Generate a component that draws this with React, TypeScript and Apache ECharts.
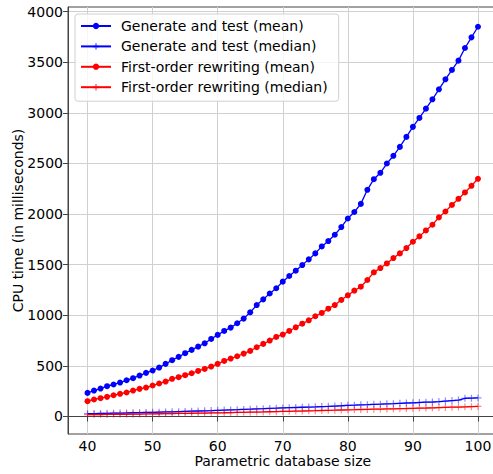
import React, { useEffect, useRef } from "react";
import * as echarts from "echarts";

const sizes = [
  40, 41, 42, 43, 44, 45, 46, 47, 48, 49, 50, 51, 52, 53, 54, 55, 56, 57, 58, 59,
  60, 61, 62, 63, 64, 65, 66, 67, 68, 69, 70, 71, 72, 73, 74, 75, 76, 77, 78, 79,
  80, 81, 82, 83, 84, 85, 86, 87, 88, 89, 90, 91, 92, 93, 94, 95, 96, 97, 98, 99, 100,
];

const gtMean = [
  233, 256, 276, 299, 316, 335, 358, 378, 404, 431, 454, 483, 520, 556, 589, 625, 658, 690, 723, 766,
  806, 845, 878, 921, 967, 1029, 1101, 1157, 1215, 1267, 1332, 1388, 1440, 1496, 1552, 1611, 1680, 1733, 1795, 1871,
  1956, 2020, 2100, 2239, 2344, 2407, 2499, 2575, 2663, 2762, 2861, 2949, 3041, 3133, 3232, 3331, 3423, 3515, 3640, 3745, 3850,
];

const gtMedian = [
  28, 29, 30, 31, 33, 34, 35, 37, 38, 40, 41, 43, 45, 46, 48, 50, 52, 54, 56, 58,
  61, 63, 65, 67, 70, 72, 75, 77, 80, 82, 85, 87, 89, 91, 93, 95, 98, 100, 103, 106,
  110, 112, 115, 117, 120, 122, 125, 127, 130, 133, 135, 138, 141, 143, 147, 152, 157, 162, 180, 181, 183,
];

const foMean = [
  151, 168, 181, 194, 210, 224, 237, 256, 273, 286, 306, 326, 345, 372, 388, 408, 427, 450, 470, 493,
  520, 549, 572, 595, 621, 648, 684, 717, 750, 786, 809, 845, 881, 917, 950, 990, 1023, 1065, 1101, 1151,
  1197, 1243, 1282, 1348, 1424, 1466, 1512, 1565, 1611, 1664, 1726, 1779, 1838, 1894, 1967, 2025, 2090, 2150, 2213, 2279, 2348,
];

const foMedian = [
  18, 19, 19, 20, 21, 22, 22, 23, 24, 25, 26, 27, 28, 29, 30, 31, 32, 33, 34, 35,
  36, 37, 39, 40, 41, 43, 44, 45, 47, 48, 50, 51, 53, 54, 56, 57, 59, 61, 62, 64,
  66, 67, 69, 70, 72, 73, 75, 76, 78, 79, 81, 83, 84, 86, 88, 90, 92, 93, 95, 97, 99,
];

const xTicks = [40, 50, 60, 70, 80, 90, 100];
const yTicks = [0, 500, 1000, 1500, 2000, 2500, 3000, 3500, 4000];

const seriesNames = [
  "Generate and test (mean)",
  "Generate and test (median)",
  "First-order rewriting (mean)",
  "First-order rewriting (median)",
];

const FONT = "DejaVu Sans";
const PLUS = "path://M0,5L10,5M5,0L5,10";

function pairs(vals: number[]) {
  return sizes.map((s, i) => [s, vals[i]]);
}

export default function App() {
  const ref = useRef<HTMLDivElement>(null);
  useEffect(() => {
    const chart = echarts.init(ref.current!, null, { renderer: "svg" });
    const axisCommon = {
      type: "value" as const,
      axisLine: { show: true, lineStyle: { color: "#444", width: 1 } },
      splitLine: { show: true, lineStyle: { color: "#d0d0d0", width: 1 } },
      nameLocation: "middle" as const,
      nameMoveOverlap: false,
      nameTextStyle: { fontSize: 14, fontFamily: FONT, color: "#000" },
    };
    const labelCommon = {
      fontSize: 14,
      fontFamily: FONT,
      color: "#000",
      margin: 5,
      formatter: (v: number) => String(v),
    };
    chart.setOption({
      animation: false,
      backgroundColor: "#fff",
      grid: {
        left: 68,
        top: 7,
        width: 429.5,
        height: 427,
        show: true,
        borderColor: "#444",
        borderWidth: 1,
        containLabel: false,
        outerBoundsMode: "none",
      },
      legend: {
        orient: "vertical",
        left: 75,
        top: 14,
        data: seriesNames,
        itemWidth: 30,
        itemHeight: 8,
        itemGap: 4.4,
        padding: [4, 11, 6, 5],
        backgroundColor: "rgba(255,255,255,0.8)",
        borderColor: "#d0d0d0",
        borderWidth: 1,
        borderRadius: 3,
        textStyle: {
          fontSize: 14,
          fontFamily: FONT,
          color: "#000",
          lineHeight: 16,
          padding: [0, 0, 0, 5],
        },
      },
      xAxis: {
        ...axisCommon,
        min: 37,
        max: 103,
        name: "Parametric database size",
        nameGap: 20,
        axisTick: {
          show: true,
          length: 5,
          customValues: xTicks,
          lineStyle: { color: "#444" },
        },
        axisLabel: { ...labelCommon, customValues: xTicks },
      },
      yAxis: {
        ...axisCommon,
        min: -173,
        max: 4045,
        name: "CPU time (in milliseconds)",
        nameGap: 43,
        axisTick: {
          show: true,
          length: 5,
          customValues: yTicks,
          lineStyle: { color: "#444" },
        },
        axisLabel: { ...labelCommon, customValues: yTicks },
      },
      series: [
        {
          name: seriesNames[0],
          type: "line",
          data: pairs(gtMean),
          symbol: "circle",
          symbolSize: 6,
          showAllSymbol: true,
          color: "#0000ff",
          lineStyle: { width: 1.3, color: "#0000ff" },
          itemStyle: { color: "#0000ff" },
        },
        {
          name: seriesNames[1],
          type: "line",
          data: pairs(gtMedian),
          symbol: PLUS,
          symbolSize: 7,
          showAllSymbol: true,
          color: "#0000ff",
          lineStyle: { width: 1.3, color: "#0000ff" },
          itemStyle: {
            color: "rgba(0,0,255,0)",
            borderColor: "rgba(0,0,255,0.45)",
            borderWidth: 1.2,
          },
        },
        {
          name: seriesNames[2],
          type: "line",
          data: pairs(foMean),
          symbol: "circle",
          symbolSize: 6,
          showAllSymbol: true,
          color: "#ff0000",
          lineStyle: { width: 1.3, color: "#ff0000" },
          itemStyle: { color: "#ff0000" },
        },
        {
          name: seriesNames[3],
          type: "line",
          data: pairs(foMedian),
          symbol: PLUS,
          symbolSize: 7,
          showAllSymbol: true,
          color: "#ff0000",
          lineStyle: { width: 1.3, color: "#ff0000" },
          itemStyle: {
            color: "rgba(255,0,0,0)",
            borderColor: "rgba(255,0,0,0.45)",
            borderWidth: 1.2,
          },
        },
      ],
    });
    return () => chart.dispose();
  }, []);
  return (
    <div
      ref={ref}
      style={{ position: "fixed", left: 0, top: 0, width: 493, height: 474 }}
    />
  );
}
